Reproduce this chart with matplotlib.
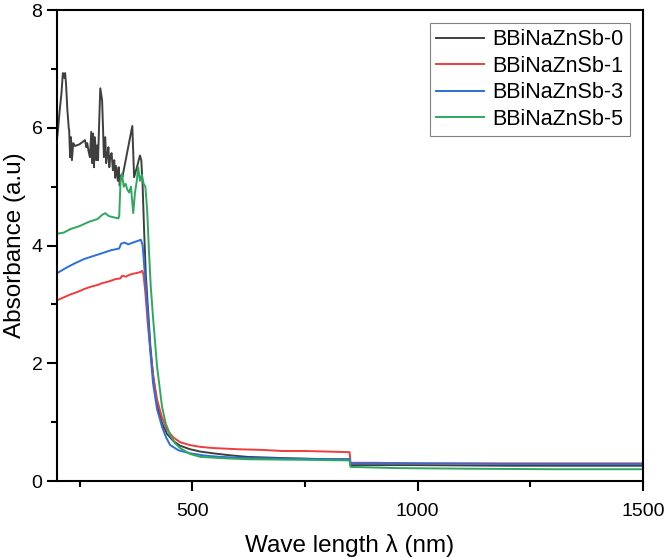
import numpy as np
import matplotlib
matplotlib.use("Agg")
import matplotlib.pyplot as plt
from matplotlib.ticker import MultipleLocator

plt.rcParams['font.family'] = ['Liberation Sans', 'DejaVu Sans']

# BBiNaZnSb-0 (noisy trace)
wl_0 = [200, 202, 206, 210, 213, 216, 218, 220, 223, 226, 227, 229, 231, 233, 236, 240,
        250, 262, 265, 267, 270, 273, 276, 278, 280, 282, 284, 287, 289, 291, 294, 296,
        300, 302, 304, 307, 309, 311, 314, 316, 318, 321, 324, 327, 329, 331, 333, 335,
        337, 339, 340, 343, 345, 367, 371, 378, 384, 387, 390, 393, 397, 402, 407, 413,
        422, 433, 444, 458, 473, 495, 518, 547, 580, 622, 700, 800, 849, 851, 1000, 1200, 1500]
ab_0 = [5.82, 5.95, 6.3, 6.6, 6.93, 6.85, 6.93, 6.75, 6.3, 6.0, 5.96, 5.5, 5.84, 5.45, 5.74, 5.69,
        5.72, 5.79, 5.67, 5.74, 5.6, 5.5, 5.93, 5.4, 5.9, 5.33, 5.84, 5.45, 5.7, 5.45, 6.2, 6.67,
        6.47, 6.01, 5.5, 5.84, 5.4, 5.5, 5.67, 5.33, 5.5, 5.57, 5.28, 5.45, 5.15, 5.35, 5.23, 5.1,
        5.33, 5.02, 5.08, 5.2, 5.16, 6.03, 5.16, 5.35, 5.53, 5.45, 5.0, 4.3, 3.5, 2.9, 2.3, 1.8,
        1.3, 0.98, 0.8, 0.68, 0.6, 0.54, 0.5, 0.47, 0.44, 0.41, 0.39, 0.37, 0.37, 0.27, 0.27, 0.26, 0.26]

# BBiNaZnSb-1
wl_1 = [200, 215, 230, 245, 260, 275, 290, 300, 315, 330, 340, 345, 352, 360, 368, 375, 385, 389, 392,
        396, 401, 407, 414, 422, 432, 444, 458, 473, 495, 518, 547, 600, 650, 700, 750, 800,
        849, 851, 900, 1000, 1100, 1200, 1300, 1400, 1500]
ab_1 = [3.07, 3.12, 3.17, 3.21, 3.26, 3.3, 3.33, 3.36, 3.39, 3.43, 3.44, 3.49, 3.47, 3.5, 3.52, 3.53, 3.55, 3.57, 3.5,
        3.2, 2.7, 2.22, 1.75, 1.38, 1.1, 0.87, 0.74, 0.66, 0.61, 0.58, 0.56, 0.54, 0.53, 0.51, 0.51, 0.5,
        0.49, 0.31, 0.31, 0.3, 0.3, 0.3, 0.3, 0.3, 0.3]

# BBiNaZnSb-3
wl_3 = [200, 220, 240, 260, 280, 300, 320, 338, 342, 350, 358, 365, 372, 380, 386, 390, 394, 398, 402,
        407, 413, 422, 433, 442, 451, 470, 496, 530, 562, 622, 700, 800, 849, 851, 900, 1000,
        1200, 1400, 1500]
ab_3 = [3.53, 3.62, 3.7, 3.77, 3.82, 3.87, 3.92, 3.95, 4.03, 4.05, 4.02, 4.04, 4.06, 4.08, 4.1, 4.0, 3.6, 3.2, 2.78,
        2.2, 1.66, 1.22, 0.92, 0.74, 0.61, 0.52, 0.47, 0.43, 0.41, 0.39, 0.38, 0.37, 0.37, 0.3, 0.3, 0.3,
        0.29, 0.29, 0.29]

# BBiNaZnSb-5
wl_5 = [200, 215, 230, 250, 270, 290, 300, 307, 315, 325, 336, 338, 341, 344, 348, 352, 356,
        360, 364, 369, 373, 377, 380, 384, 388, 392, 396, 400, 404, 408, 413, 422, 433, 441,
        451, 462, 473, 495, 518, 562, 622, 750, 849, 851, 950, 1100, 1300, 1500]
ab_5 = [4.2, 4.22, 4.28, 4.33, 4.4, 4.45, 4.52, 4.55, 4.5, 4.48, 4.46, 4.5, 5.1, 5.22, 5.0, 5.05, 4.95,
        4.9, 5.0, 4.55, 4.9, 5.1, 5.33, 5.1, 5.2, 5.05, 5.0, 4.6, 3.9, 3.3, 2.78, 1.94, 1.26, 0.98,
        0.78, 0.64, 0.56, 0.46, 0.41, 0.39, 0.37, 0.36, 0.35, 0.24, 0.22, 0.21, 0.2, 0.2]

labels = ['BBiNaZnSb-0', 'BBiNaZnSb-1', 'BBiNaZnSb-3', 'BBiNaZnSb-5']
colors = ['#3f3f3f', '#f03c3c', '#2a6fdb', '#2ea85e']

fig = plt.figure(figsize=(6.66, 5.57), dpi=100)
ax = fig.add_axes([0.0856, 0.1364, 0.88, 0.8456])

series = [(wl_0, ab_0), (wl_1, ab_1), (wl_3, ab_3), (wl_5, ab_5)]
for (x, y), lab, c in zip(series, labels, colors):
    ax.plot(x, y, color=c, lw=1.4, label=lab)

ax.set_xlim(200, 1500)
ax.set_ylim(0, 8)
ax.xaxis.set_major_locator(MultipleLocator(500))
ax.xaxis.set_minor_locator(MultipleLocator(250))
ax.yaxis.set_major_locator(MultipleLocator(2))
ax.yaxis.set_minor_locator(MultipleLocator(1))
ax.tick_params(which='major', direction='out', length=7, width=1.5, labelsize=14)
ax.tick_params(axis='x', which='major', pad=9)
ax.tick_params(which='minor', direction='out', length=4, width=1.5)
for s in ax.spines.values():
    s.set_linewidth(1.5)

ax.set_xlabel('Wave length λ (nm)', fontsize=17.5, labelpad=10)
ax.set_ylabel('Absorbance (a.u)', fontsize=17.5)

leg = ax.legend(loc='upper right', fontsize=15.5, fancybox=False, framealpha=1,
                edgecolor='#808080', handlelength=2.2, labelspacing=0.25,
                borderpad=0.3, handletextpad=0.4, borderaxespad=0.6)
leg.get_frame().set_linewidth(0.8)

fig.savefig('out.png', dpi=100)
